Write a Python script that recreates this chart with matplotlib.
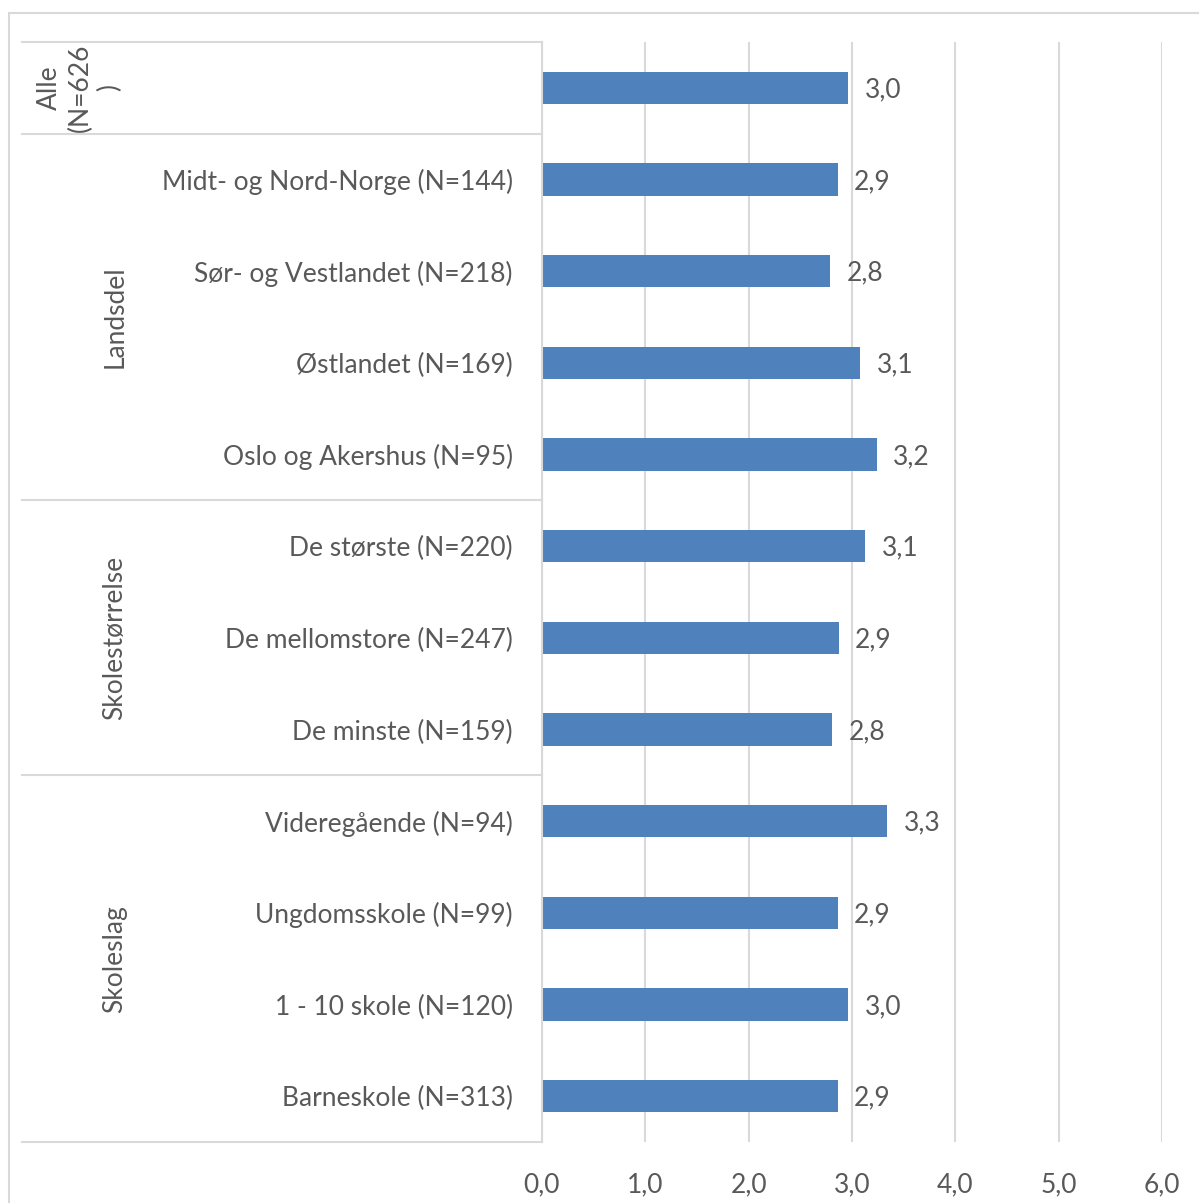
import matplotlib.pyplot as plt
import matplotlib.transforms as mtransforms
from matplotlib.patches import Rectangle
from matplotlib.lines import Line2D
import numpy as np

plt.rcParams['font.family'] = ['Lato', 'DejaVu Sans']

# data, top to bottom
categories = ['', 'Midt- og Nord-Norge (N=144)', 'Sør- og Vestlandet (N=218)',
              'Østlandet (N=169)', 'Oslo og Akershus (N=95)',
              'De største (N=220)', 'De mellomstore (N=247)', 'De minste (N=159)',
              'Videregående (N=94)', 'Ungdomsskole (N=99)', '1 - 10 skole (N=120)',
              'Barneskole (N=313)']
values = [2.96, 2.86, 2.79, 3.08, 3.24, 3.13, 2.87, 2.81, 3.34, 2.86, 2.96, 2.86]
groups = ['Alle\n(N=626\n)', 'Landsdel', 'Skolestørrelse', 'Skoleslag']
group_sizes = [1, 4, 3, 4]
xticks = [0, 1, 2, 3, 4, 5, 6]

W, H = 1199, 1203
fig = plt.figure(figsize=(W / 100, H / 100), dpi=100)
ax = fig.add_axes([542 / W, 1 - 1142 / H, (1162 - 542) / W, (1142 - 42) / H])

grey = '#D9D9D9'
txt = '#595959'
fs = 19

n = len(categories)
ypos = np.arange(n)[::-1]
ax.barh(ypos, values, height=0.35, color='#4F81BD', zorder=3)
for y, v in zip(ypos, values):
    ax.text(v + 0.16, y - 0.02, f'{v:.1f}'.replace('.', ','), va='center', ha='left',
            fontsize=fs, color=txt)

ax.set_xlim(0, 6)
ax.set_ylim(-0.5, n - 0.5)
ax.set_xticks(xticks)
ax.set_xticklabels([f'{t:.1f}'.replace('.', ',') for t in xticks], fontsize=fs, color=txt)
ax.set_yticks(ypos)
ax.set_yticklabels(categories, fontsize=fs, color=txt)
ax.tick_params(axis='both', length=0)
ax.tick_params(axis='y', pad=21)
ax.tick_params(axis='x', pad=22)
ax.xaxis.grid(True, color=grey, linewidth=1.5, zorder=0)
for s in ['top', 'right', 'bottom']:
    ax.spines[s].set_visible(False)
ax.spines['left'].set_color(grey)
ax.spines['left'].set_linewidth(1.5)
ax.spines['left'].set_zorder(4)

# group separators and labels
trans = mtransforms.blended_transform_factory(fig.transFigure, ax.transData)
top = n - 0.5
bounds = [top]
for g in group_sizes:
    bounds.append(bounds[-1] - g)
for b in bounds:
    fig.add_artist(Line2D([22 / W, 542 / W], [b, b], transform=trans, color=grey, linewidth=1.5))
for i, g in enumerate(groups):
    mid = (bounds[i] + bounds[i + 1]) / 2
    xg = 80 if i == 0 else 115
    fig.text(xg / W, mid, g, transform=trans, rotation=90, ha='center', va='center',
             multialignment='center', fontsize=fs, color=txt, linespacing=1.25)

# outer chart border
fig.add_artist(Rectangle((9 / W, -0.05), 1.1, 1 - 13 / H + 0.05, transform=fig.transFigure,
                         fill=False, edgecolor=grey, linewidth=1.5))

fig.savefig('out.png', dpi=100)
